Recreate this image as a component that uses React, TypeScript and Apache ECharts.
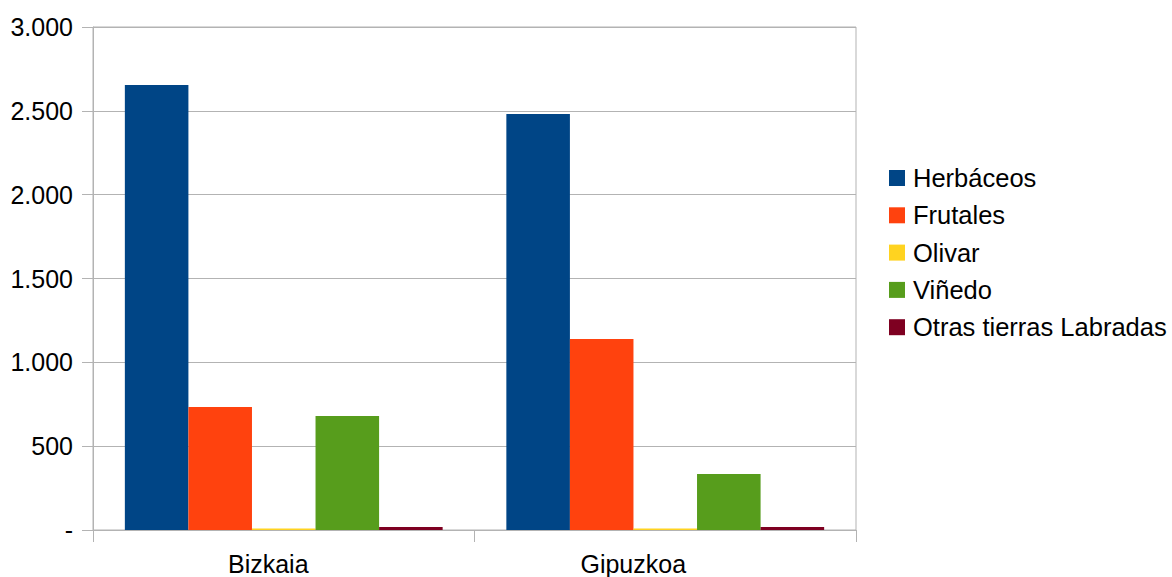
import React, { useEffect, useRef } from "react";
import * as echarts from "echarts";

const categories = ["Bizkaia", "Gipuzkoa"];
const seriesNames = ["Herbáceos", "Frutales", "Olivar", "Viñedo", "Otras tierras Labradas"];
const herbaceos = [2654, 2481];
const frutales = [734, 1139];
const olivar = [9, 9];
const vinedo = [680, 334];
const otras = [18, 18];
const colors = ["#004586", "#ff420e", "#ffd320", "#579d1c", "#7e0021"];
const labelShift = [31, 64];

const fmt = (v: number) =>
  v === 0 ? "-" : v.toString().replace(/\B(?=(\d{3})+(?!\d))/g, ".");

export default function App() {
  const ref = useRef<HTMLDivElement>(null);
  useEffect(() => {
    if (!ref.current) return;
    const chart = echarts.init(ref.current, undefined, { renderer: "svg" });
    const data = [herbaceos, frutales, olivar, vinedo, otras];
    const rich: Record<string, any> = {};
    categories.forEach((_, i) => {
      rich["c" + i] = { fontSize: 25, color: "#000", padding: [0, labelShift[i], 0, 0] };
    });
    chart.setOption({
      animation: false,
      textStyle: { fontFamily: "Liberation Sans, Arial, sans-serif" },
      grid: {
        left: 93,
        right: 316,
        top: 27,
        bottom: 47,
        show: true,
        borderColor: "#b3b3b3",
        borderWidth: 1,
      },
      legend: {
        orient: "vertical",
        left: 889,
        top: 165,
        padding: 0,
        itemWidth: 16,
        itemHeight: 16,
        itemGap: 11.3,
        icon: "rect",
        data: seriesNames,
        textStyle: { fontSize: 25.5, lineHeight: 25, color: "#000", padding: [0, 0, 0, 3] },
      },
      xAxis: {
        type: "category",
        data: categories,
        axisLine: { lineStyle: { color: "#b3b3b3" } },
        axisTick: { show: true, length: 12, lineStyle: { color: "#b3b3b3" } },
        axisLabel: {
          fontSize: 25,
          color: "#000",
          margin: 21,
          formatter: (v: string) => `{c${categories.indexOf(v)}|${v}}`,
          rich,
        },
        splitLine: { show: false },
      },
      yAxis: {
        type: "value",
        min: 0,
        max: 3000,
        interval: 500,
        axisLine: { show: true, lineStyle: { color: "#b3b3b3" } },
        axisTick: { show: true, length: 11, lineStyle: { color: "#b3b3b3" } },
        axisLabel: { fontSize: 25, color: "#000", margin: 20, formatter: fmt },
        splitLine: { lineStyle: { color: "#b3b3b3" } },
      },
      series: seriesNames.map((name, i) => ({
        name,
        type: "bar",
        data: data[i],
        itemStyle: { color: colors[i] },
        barGap: "0%",
        barCategoryGap: "16.7%",
      })),
    });
    return () => chart.dispose();
  }, []);
  return (
    <div
      ref={ref}
      style={{ position: "fixed", left: 0, top: 0, width: 1172, height: 577, background: "#fff" }}
    />
  );
}
